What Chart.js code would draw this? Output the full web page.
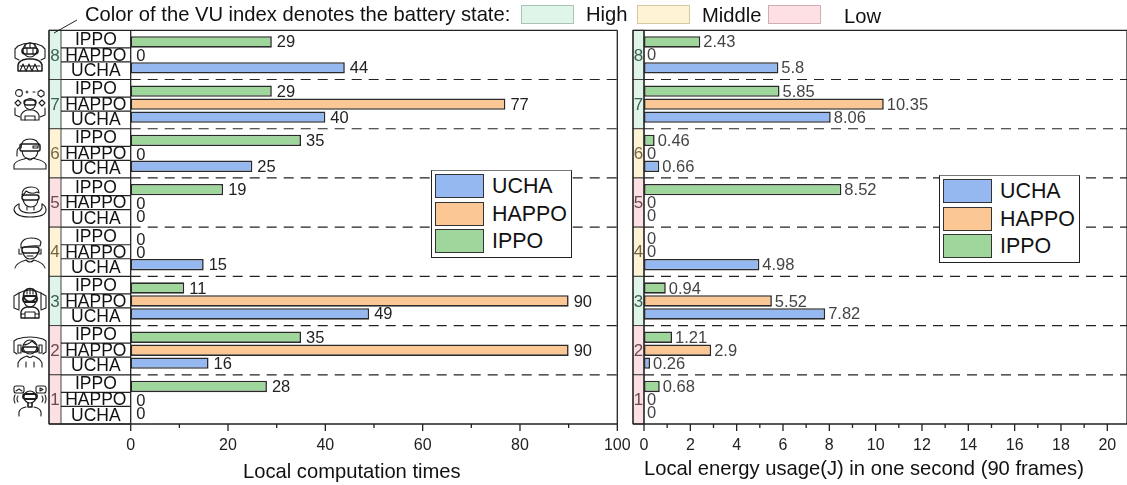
<!DOCTYPE html>
<html>
<head>
<meta charset="utf-8">
<script src="https://cdn.jsdelivr.net/npm/chart.js@4/dist/chart.umd.min.js"></script>
<style>
body { margin: 0; background: #fff; font-family: "Liberation Sans", Arial, sans-serif; }
#page { position: relative; width: 1127px; height: 485px; overflow: hidden; }
#page canvas { position: absolute; top: 0; }
.txt { position: absolute; font-size: 20.2px; color: #111; white-space: nowrap; line-height: 22px; }
.swatch { position: absolute; top: 5px; width: 53px; height: 19px; box-sizing: border-box; border: 1px solid; }
.legend { position: absolute; width: 141px; height: 88px; background: #fff; border: 1px solid #222; border-top-color: #777; box-sizing: border-box; }
.legend i { position: absolute; left: 3px; width: 49px; height: 24px; box-sizing: border-box; border: 1.5px solid #333; }
.legend span { position: absolute; left: 60px; font-size: 21.4px; line-height: 24px; color: #111; }
svg.icon { position: absolute; left: 13px; width: 34px; height: 32px; fill: none; stroke: #1c1c1c; stroke-width: 1.1; stroke-linecap: round; stroke-linejoin: round; }
</style>
</head>
<body>
<div id="page">
  <canvas id="timesChart" style="left:0"></canvas>
  <canvas id="energyChart" style="left:625px"></canvas>
  <div class="txt" style="left:85px;top:3px">Color of the VU index denotes the battery state:</div>
  <div class="swatch" style="left:521px;background:#dff5ea;border-color:#a9c4b6"></div>
  <div class="txt" style="left:586px;top:3px">High</div>
  <div class="swatch" style="left:637px;background:#fff3d6;border-color:#d6c8a2"></div>
  <div class="txt" style="left:702px;top:4px">Middle</div>
  <div class="swatch" style="left:768px;background:#fde0e3;border-color:#d0afb2"></div>
  <div class="txt" style="left:844px;top:5px">Low</div>
  <div class="txt" style="left:243px;top:460px">Local computation times</div>
  <div class="txt" style="left:644px;top:457px">Local energy usage(J) in one second (90 frames)</div>
  <div class="legend" style="left:431px;top:170px">
    <i style="top:3px;background:#96b8f0"></i><span style="top:3px">UCHA</span>
    <i style="top:31px;background:#fbc795"></i><span style="top:31px">HAPPO</span>
    <i style="top:58px;background:#9fd69b"></i><span style="top:58px">IPPO</span>
  </div>
  <div class="legend" style="left:939px;top:175px">
    <i style="top:3px;background:#96b8f0"></i><span style="top:3px">UCHA</span>
    <i style="top:31px;background:#fbc795"></i><span style="top:31px">HAPPO</span>
    <i style="top:58px;background:#9fd69b"></i><span style="top:58px">IPPO</span>
  </div>
  <!-- VU icons -->
  <svg class="icon" style="top:40px" viewBox="0 0 34 32"><path d="M5 6Q17 0 29 6M5 6L2 9V18L6 20M29 6L32 9V18L28 20"/><circle cx="17" cy="10" r="7"/><path d="M17 3V8M12 4V8M22 4V8"/><rect x="9" y="8" width="16" height="6" rx="3" stroke-width="1.6"/><path d="M14 8V14M20 8V14"/><path d="M5 31V25Q6 20 14 19H20Q28 20 29 25V31Z" stroke-width="1.5"/><path d="M7 31L10 24L13 31L16 24L19 31L22 24L25 31M7 26H27"/></svg>
  <svg class="icon" style="top:89px" viewBox="0 0 34 32"><circle cx="6" cy="4" r="3.4"/><path d="M28 1L31 3V6L28 8L25 6V3Z"/><path d="M13 3H15M14 2V4M20 3H22"/><path d="M2 14L5 11L8 14L5 17Z"/><path d="M26 14L29 11L32 14L29 17Z"/><circle cx="17" cy="15" r="5.5"/><rect x="11" y="11" width="12" height="5" rx="2.4" stroke-width="1.4"/><path d="M2 19V26L7 28M32 19V26L27 28"/><path d="M8 31V26Q10 22 14 21H20Q24 22 26 26V31Z"/><path d="M12 31V27H22V31"/></svg>
  <svg class="icon" style="top:138px" viewBox="0 0 34 32"><path d="M8 10Q8 1 17 1Q25 1 26 8"/><rect x="7" y="6" width="20" height="7" rx="1.5" stroke-width="1.5"/><path d="M20 8H25V10H20Z"/><path d="M9 13Q10 21 17 21Q24 21 25 13"/><path d="M8 9Q4 10 4 14V18"/><path d="M1 31V27Q2 23 11 21L14 20Q17 24 20 20L23 21Q32 23 33 27V31Z"/></svg>
  <svg class="icon" style="top:186px" viewBox="0 0 34 32"><path d="M9 9Q9 1 18 1Q26 1 26 7L24 6Q18 9 13 5Q12 8 9 9"/><rect x="9" y="9" width="17" height="5" rx="2.4" stroke-width="1.5"/><path d="M10 14Q12 21 18 21Q24 21 25 14"/><path d="M14 21V24M21 21V24"/><path d="M6 18Q1 20 1 24Q3 31 17 31Q33 31 33 24Q33 20 29 18"/><path d="M6 18V22Q8 27 17 27Q27 27 29 22V18"/></svg>
  <svg class="icon" style="top:237px" viewBox="0 0 34 32"><path d="M8 7Q10 1 18 1Q26 1 28 5L27 9Q18 8 8 11Z"/><rect x="9" y="10" width="17" height="6" rx="2.5" stroke-width="1.5"/><path d="M6 12V17H9M28 12V17H26"/><path d="M10 16Q12 22 17 22Q23 22 25 16"/><path d="M14 19H20"/><path d="M2 31Q3 26 13 23Q17 27 21 23Q31 26 32 31"/></svg>
  <svg class="icon" style="top:287px" viewBox="0 0 34 32"><path d="M6 6Q17 0 28 6M6 6L1 9V21L6 23M28 6L33 9V21L28 23"/><path d="M6 6V22M28 6V22"/><circle cx="17" cy="8" r="6.5" stroke-width="1.6"/><path d="M14 2V7M17 2V7M20 2V7"/><rect x="10" y="9" width="14" height="6" rx="2.5" stroke-width="1.8"/><path d="M11 15Q13 20 17 20Q21 20 23 15"/><path d="M8 31V25Q9 21 14 20H20Q25 21 26 25V31Z" stroke-width="1.4"/><path d="M12 31V25H22V31M8 27H12M22 27H26"/></svg>
  <svg class="icon" style="top:336px" viewBox="0 0 34 32"><path d="M4 3Q17 -1 30 3M4 3L1 5V16L4 18M30 3L33 5V16L30 18"/><circle cx="17" cy="11" r="7"/><path d="M10 9Q15 9 19 5Q22 8 24 9"/><rect x="9" y="11" width="16" height="5" rx="2.4" stroke-width="1.6"/><rect x="5" y="9" width="3" height="8"/><rect x="26" y="9" width="3" height="8"/><path d="M5 31V27Q7 22 14 20Q17 23 20 20Q27 22 29 27V31"/><path d="M13 31V26M21 31V26"/></svg>
  <svg class="icon" style="top:385px" viewBox="0 0 34 32"><rect x="1" y="1" width="10" height="7" rx="2"/><path d="M3 6L6 4L9 6"/><rect x="23" y="1" width="10" height="7" rx="2"/><path d="M27 3L30 4.5L27 6Z"/><circle cx="17" cy="12" r="6"/><rect x="10" y="9" width="14" height="5" rx="2.4" stroke-width="1.8"/><path d="M5 11Q3 14 5 17M2 10Q0 14 2 18M29 11Q31 14 29 17M32 10Q34 14 32 18"/><path d="M15 18V22H19V18" stroke-width="1.6"/><path d="M6 31V27Q7 23 13 22M28 31V27Q27 23 21 22"/></svg>
</div>
<script>
const vuIndex = ['8', '7', '6', '5', '4', '3', '2', '1'];
const batteryState = ['High', 'High', 'Middle', 'Low', 'Middle', 'High', 'Low', 'Low'];
const methods = ['IPPO', 'HAPPO', 'UCHA'];
const ippoTimes = [29, 29, 35, 19, 0, 11, 35, 28];
const happoTimes = [0, 77, 0, 0, 0, 90, 90, 0];
const uchaTimes = [44, 40, 25, 0, 15, 49, 16, 0];
const ippoEnergy = [2.43, 5.85, 0.46, 8.52, 0, 0.94, 1.21, 0.68];
const happoEnergy = [0, 10.35, 0, 0, 0, 5.52, 2.9, 0];
const uchaEnergy = [5.8, 8.06, 0.66, 0, 4.98, 7.82, 0.26, 0];

const stateFill = { High: '#dff5ea', Middle: '#fff3d6', Low: '#fde0e3' };
const stateText = { High: '#3f5f52', Middle: '#75663f', Low: '#6b4a4d' };
const methodFill = { IPPO: '#9fd69b', HAPPO: '#fbc795', UCHA: '#96b8f0' };

function makeDatasets(ippo, happo, ucha) {
    return [ippo, happo, ucha].map((values, i) => ({
        label: methods[i],
        data: values,
        backgroundColor: methodFill[methods[i]],
        borderColor: '#2a2a2a',
        borderWidth: ctx => ctx.raw === 0 ? 0 : 1.6,
        borderSkipped: false,
        categoryPercentage: 0.79,
        barPercentage: 0.88
    }));
}

// frame, group strip, dashes, value labels and axis ticks
function framePlugin(opts) {
    return {
        id: 'frame',
        afterDatasetsDraw(chart) {
            const { ctx, chartArea: a, scales: { x } } = chart;
            const rowH = a.height / vuIndex.length;
            ctx.save();
            // dashes between the groups
            ctx.strokeStyle = '#222';
            ctx.lineWidth = 1.2;
            ctx.setLineDash([10, 7]);
            vuIndex.slice(1).forEach((_, i) => {
                const yy = a.top + rowH * (i + 1);
                ctx.beginPath();
                ctx.moveTo(a.left, yy);
                ctx.lineTo(a.right, yy);
                ctx.stroke();
            });
            ctx.setLineDash([]);
            // coloured index strip
            vuIndex.forEach((name, i) => {
                const top = a.top + rowH * i;
                ctx.fillStyle = stateFill[batteryState[i]];
                ctx.fillRect(opts.stripLeft, top, opts.stripRight - opts.stripLeft, rowH);
                ctx.strokeStyle = '#444';
                ctx.lineWidth = 1;
                ctx.strokeRect(opts.stripLeft, top, opts.stripRight - opts.stripLeft, rowH);
                ctx.fillStyle = stateText[batteryState[i]];
                ctx.font = '17px "Liberation Sans"';
                ctx.textAlign = 'center';
                ctx.textBaseline = 'middle';
                ctx.fillText(name, (opts.stripLeft + opts.stripRight) / 2, top + rowH / 2 + 1);
            });
            // method name cells, only on the left panel
            if (opts.methodCells) {
                vuIndex.forEach((name, i) => {
                    const top = a.top + rowH * i;
                    const bottom = top + rowH;
                    const sep1 = top + rowH / 2 - 7;
                    const sep2 = top + rowH / 2 + 7;
                    ctx.strokeStyle = '#222';
                    ctx.lineWidth = 1.2;
                    [sep1, sep2, bottom].forEach(v => {
                        ctx.beginPath();
                        ctx.moveTo(opts.stripRight, v);
                        ctx.lineTo(a.left, v);
                        ctx.stroke();
                    });
                    ctx.fillStyle = '#111';
                    ctx.font = '17.5px "Liberation Sans"';
                    ctx.textAlign = 'center';
                    ctx.textBaseline = 'middle';
                    const cx = (opts.stripRight + a.left) / 2;
                    ctx.fillText(methods[0], cx, (top + sep1) / 2 + 1);
                    ctx.fillText(methods[1], cx, (sep1 + sep2) / 2 + 1);
                    ctx.fillText(methods[2], cx, (sep2 + bottom) / 2 + 0.5);
                });
            }
            // value labels
            ctx.fillStyle = opts.labelColor;
            ctx.font = '16.5px "Liberation Sans"';
            ctx.textAlign = 'left';
            ctx.textBaseline = 'middle';
            chart.data.datasets.forEach((ds, d) => {
                chart.getDatasetMeta(d).data.forEach((bar, i) => {
                    const zero = ds.data[i] === 0;
                    const gap = zero ? opts.zeroGap : opts.labelGap;
                    ctx.fillText(String(ds.data[i]), bar.x + gap, bar.y + (zero ? opts.zeroDrop : 1));
                });
            });
            // frame
            ctx.strokeStyle = '#222';
            ctx.lineWidth = 1.3;
            ctx.beginPath();
            ctx.moveTo(opts.stripLeft, a.top);
            ctx.lineTo(a.right, a.top);
            ctx.moveTo(opts.stripLeft, a.bottom);
            ctx.lineTo(a.right, a.bottom);
            ctx.moveTo(a.right, a.top);
            ctx.lineTo(a.right, a.bottom);
            ctx.moveTo(a.left, a.top);
            ctx.lineTo(a.left, a.bottom);
            ctx.moveTo(opts.stripLeft, a.top);
            ctx.lineTo(opts.stripLeft, a.bottom);
            ctx.stroke();
            // ticks
            x.ticks.forEach(t => {
                const px = x.getPixelForValue(t.value);
                ctx.beginPath();
                ctx.moveTo(px, a.bottom);
                ctx.lineTo(px, a.bottom + (t.label === '' ? 4 : 7));
                ctx.stroke();
            });
            ctx.restore();
        }
    };
}

function makeChart(id, width, datasets, axisMax, step, labelEvery, layout, opts) {
    const canvas = document.getElementById(id);
    canvas.width = width;
    canvas.height = 485;
    canvas.style.width = width + 'px';
    canvas.style.height = '485px';
    return new Chart(canvas, {
        type: 'bar',
        data: { labels: vuIndex, datasets: datasets },
        options: {
            indexAxis: 'y',
            responsive: false,
            animation: false,
            layout: { padding: layout },
            plugins: { legend: { display: false }, tooltip: { enabled: false } },
            scales: {
                y: {
                    display: false,
                    grid: { display: false }
                },
                x: {
                    min: 0,
                    max: axisMax,
                    grid: { display: false, drawTicks: false },
                    border: { display: false },
                    afterBuildTicks(axis) {
                        const out = [];
                        for (let v = 0; v <= axisMax + 1e-6; v += step) out.push({ value: v });
                        axis.ticks = out;
                    },
                    afterFit(axis) {
                        axis.height = 61;
                        axis.paddingLeft = 0;
                        axis.paddingRight = 0;
                    },
                    ticks: {
                        autoSkip: false,
                        maxRotation: 0,
                        padding: 12,
                        color: '#222',
                        font: { size: 16, family: '"Liberation Sans"' },
                        callback: v => (Math.round(v / step) % labelEvery === 0 ? String(v) : '')
                    }
                }
            }
        },
        plugins: [framePlugin(opts)]
    });
}

makeChart('timesChart', 640, makeDatasets(ippoTimes, happoTimes, uchaTimes), 100, 10, 2,
    { left: 130.7, right: 22.7, top: 30.3, bottom: 0 },
    { stripLeft: 49, stripRight: 61, methodCells: true, labelColor: '#222', labelGap: 5, zeroGap: 5.5, zeroDrop: 2 });
makeChart('energyChart', 502, makeDatasets(ippoEnergy, happoEnergy, uchaEnergy), 20.85, 1, 2,
    { left: 19, right: 0, top: 30.3, bottom: 0 },
    { stripLeft: 8, stripRight: 19, methodCells: false, labelColor: '#444', labelGap: 3, zeroGap: 3, zeroDrop: 1 });

// leader line to the index strip
const c = document.getElementById('timesChart').getContext('2d');
c.strokeStyle = '#222';
c.lineWidth = 1;
c.beginPath();
c.moveTo(54, 33);
c.lineTo(77, 20);
c.stroke();
</script>
</body>
</html>
